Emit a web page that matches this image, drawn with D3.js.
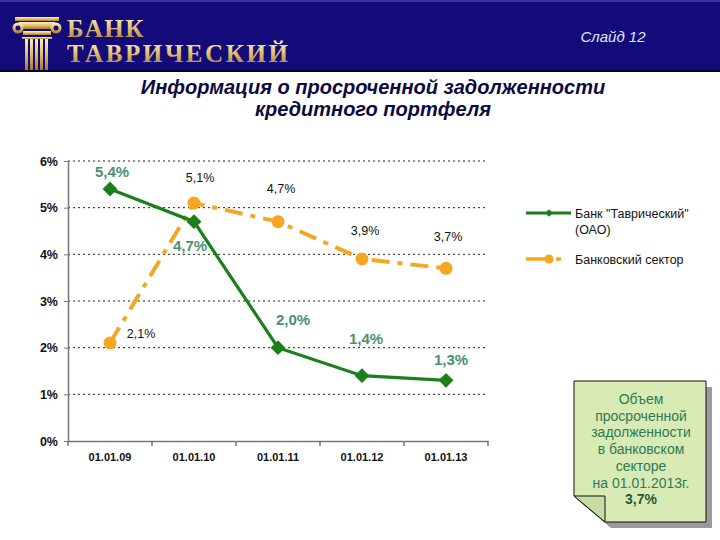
<!DOCTYPE html>
<html><head><meta charset="utf-8">
<script src="https://cdn.jsdelivr.net/npm/d3@7/dist/d3.min.js"></script>
<style>body{margin:0;background:#fff}svg{display:block}</style>
</head><body>
<script>
const categories = ["01.01.09","01.01.10","01.01.11","01.01.12","01.01.13"];
const bankValues = [5.4, 4.7, 2.0, 1.4, 1.3];
const sectorValues = [2.1, 5.1, 4.7, 3.9, 3.7];
const yTicks = [0,1,2,3,4,5,6];
const seriesNames = ['Банк "Таврический"', 'Банковский сектор'];
const noteLines = ["Объем","просроченной","задолженности","в банковском","секторе","на 01.01.2013г."];
const noteValue = "3,7%";

const W=720,H=540;
const svg=d3.select("body").append("svg").attr("width",W).attr("height",H);
const fmt=v=>v.toFixed(1).replace(".",",")+"%";
const SANS="Liberation Sans, Arial, sans-serif";

// Header
const defs=svg.append("defs");
const g1=defs.append("linearGradient").attr("id","gold").attr("x1",0).attr("y1",0).attr("x2",0).attr("y2",1);
g1.append("stop").attr("offset","0%").attr("stop-color","#fff3c0");
g1.append("stop").attr("offset","45%").attr("stop-color","#e6c47a");
g1.append("stop").attr("offset","100%").attr("stop-color","#a97a2c");
svg.append("rect").attr("x",0).attr("y",0).attr("width",W).attr("height",72).attr("fill","#140b7b");
svg.append("rect").attr("x",0).attr("y",0).attr("width",W).attr("height",2).attr("fill","#3a33a0");
svg.append("rect").attr("x",0).attr("y",70).attr("width",W).attr("height",2).attr("fill","#050320");
// logo column
const logo=svg.append("g").attr("fill","url(#gold)");
logo.append("rect").attr("x",15).attr("y",17).attr("width",44).attr("height",4);
logo.append("rect").attr("x",19).attr("y",22).attr("width",36).attr("height",7);
logo.append("circle").attr("cx",18).attr("cy",28).attr("r",5.5);
logo.append("circle").attr("cx",56).attr("cy",28).attr("r",5.5);
logo.append("circle").attr("cx",18).attr("cy",28).attr("r",2.5).attr("fill","#140b7b");
logo.append("circle").attr("cx",56).attr("cy",28).attr("r",2.5).attr("fill","#140b7b");
logo.append("rect").attr("x",23).attr("y",31).attr("width",28).attr("height",4);
[25,30,35,40,45].forEach(x=>logo.append("rect").attr("x",x).attr("y",38).attr("width",3).attr("height",32));
logo.append("rect").attr("x",22).attr("y",37).attr("width",30).attr("height",2);
svg.append("text").attr("x",67).attr("y",37).attr("font-family","Liberation Serif, serif").attr("font-weight","bold")
  .attr("font-size",25).attr("fill","url(#gold)").attr("letter-spacing",1.5).text("БАНК");
svg.append("text").attr("x",67).attr("y",62).attr("font-family","Liberation Serif, serif").attr("font-weight","bold")
  .attr("font-size",25).attr("fill","url(#gold)").attr("letter-spacing",2.6).text("ТАВРИЧЕСКИЙ");
svg.append("text").attr("x",613).attr("y",42).attr("text-anchor","middle").attr("font-family",SANS)
  .attr("font-style","italic").attr("font-size",15).attr("fill","#dde6ff").text("Слайд 12");

// Title
svg.append("text").attr("x",373).attr("y",94).attr("text-anchor","middle").attr("font-family",SANS)
  .attr("font-style","italic").attr("font-weight","bold").attr("font-size",20).attr("fill","#0b0b40").text("Информация о просроченной задолженности");
svg.append("text").attr("x",373).attr("y",116).attr("text-anchor","middle").attr("font-family",SANS)
  .attr("font-style","italic").attr("font-weight","bold").attr("font-size",20).attr("fill","#0b0b40").text("кредитного портфеля");

// Chart
const x=d3.scaleBand().domain(categories).range([68,488]);
const y=d3.scaleLinear().domain([0,6]).range([441,161]);
const cx=c=>x(c)+x.bandwidth()/2;

const grid=svg.append("g");
yTicks.filter(t=>t>0).forEach(t=>{
  grid.append("line").attr("x1",68).attr("x2",488).attr("y1",y(t)).attr("y2",y(t))
    .attr("stroke","#222").attr("stroke-width",1).attr("stroke-dasharray","2,3");
});
const yAxis=svg.append("g").attr("transform","translate(68,0)")
  .call(d3.axisLeft(y).tickValues(yTicks).tickFormat(d=>d+"%").tickSize(4).tickPadding(6).tickSizeOuter(0));
const xAxis=svg.append("g").attr("transform","translate(0,441)")
  .call(d3.axisBottom(x).tickSize(0).tickPadding(12));
[yAxis,xAxis].forEach(a=>{
  a.select(".domain").attr("stroke","#777").attr("stroke-width",1.5);
  a.selectAll(".tick line").attr("stroke","#777");
  a.selectAll("text").attr("font-family",SANS).attr("font-weight","bold").attr("font-size",11).attr("fill","#111");
});
yAxis.selectAll("text").attr("font-size",12.5);
const bounds=categories.map(c=>x(c)).concat([x(categories[categories.length-1])+x.bandwidth()]);
bounds.forEach(b=>svg.append("line").attr("x1",b).attr("x2",b).attr("y1",441).attr("y2",446).attr("stroke","#777").attr("stroke-width",1.5));

// lines
const line=d3.line().x(d=>cx(d.c)).y(d=>y(d.v));
const sectorData=categories.map((c,i)=>({c,v:sectorValues[i]}));
const bankData=categories.map((c,i)=>({c,v:bankValues[i]}));
svg.append("path").datum(sectorData).attr("d",line).attr("fill","none").attr("stroke","#f5a623")
  .attr("stroke-width",4).attr("stroke-dasharray","18,8,5,8");
svg.selectAll(".sdot").data(sectorData).enter().append("circle").attr("cx",d=>cx(d.c)).attr("cy",d=>y(d.v)).attr("r",6.5).attr("fill","#f5a623");
svg.append("path").datum(bankData).attr("d",line).attr("fill","none").attr("stroke","#1b7f1b").attr("stroke-width",3.2);
const diamond=d3.symbol().type(d3.symbolSquare).size(110);
svg.selectAll(".bdot").data(bankData).enter().append("path").attr("d",diamond)
  .attr("transform",d=>`translate(${cx(d.c)},${y(d.v)}) rotate(45)`).attr("fill","#1b7f1b");

// labels
const bankLabelOff=[[2,-12],[-4,29],[15,-23],[4,-32],[5,-15]];
const sectorLabelOff=[[31,-5],[6,-21],[3,-29],[3,-24],[2,-27]];
bankData.forEach((d,i)=>svg.append("text").attr("x",cx(d.c)+bankLabelOff[i][0]).attr("y",y(d.v)+bankLabelOff[i][1])
  .attr("text-anchor","middle").attr("font-family",SANS).attr("font-weight","bold")
  .attr("font-size",15).attr("fill","#4a9070").text(fmt(d.v)));
sectorData.forEach((d,i)=>svg.append("text").attr("x",cx(d.c)+sectorLabelOff[i][0]).attr("y",y(d.v)+sectorLabelOff[i][1])
  .attr("text-anchor","middle").attr("font-family",SANS)
  .attr("font-size",12.5).attr("fill","#111").text(fmt(d.v)));

// legend
const lg=svg.append("g").attr("font-family",SANS).attr("font-size",12.5).attr("fill","#111");
lg.append("line").attr("x1",526).attr("x2",571).attr("y1",213).attr("y2",213).attr("stroke","#1b7f1b").attr("stroke-width",3);
lg.append("path").attr("d",d3.symbol().type(d3.symbolSquare).size(30)).attr("transform","translate(549,213) rotate(45)").attr("fill","#1b7f1b");
lg.append("text").attr("x",575).attr("y",218).text(seriesNames[0]);
lg.append("text").attr("x",575).attr("y",234).text("(ОАО)");
lg.append("line").attr("x1",526).attr("x2",571).attr("y1",259).attr("y2",259).attr("stroke","#f5a623").attr("stroke-width",3.5).attr("stroke-dasharray","22,8,5,10");
lg.append("circle").attr("cx",549).attr("cy",259).attr("r",4.5).attr("fill","#f5a623");
lg.append("text").attr("x",575).attr("y",264).text(seriesNames[1]);

// note
const nx0=574,ny0=381,nx1=706,ny1=522,fx=605,fy=496;
const pts=[[nx0,ny0],[nx1,ny0],[nx1,ny1],[fx,ny1],[nx0,fy]];
svg.append("polygon").attr("points",pts.map(p=>[p[0]+6,p[1]+6].join(",")).join(" ")).attr("fill","#9a9a9a");
svg.append("polygon").attr("points",pts.map(p=>p.join(",")).join(" ")).attr("fill","#d8ebb4").attr("stroke","#111").attr("stroke-width",1);
svg.append("polygon").attr("points",[[nx0,fy],[fx,fy],[fx,ny1]].map(p=>p.join(",")).join(" ")).attr("fill","#c8dca4").attr("stroke","#111").attr("stroke-width",1);
const nt=svg.append("g").attr("font-family",SANS).attr("font-size",14).attr("fill","#2f7a55").attr("text-anchor","middle");
noteLines.forEach((l,i)=>nt.append("text").attr("x",641).attr("y",404+i*16.7).text(l));
nt.append("text").attr("x",641).attr("y",404+noteLines.length*16.7).attr("font-weight","bold").attr("fill","#1d5a3a").text(noteValue);
</script>
</body></html>
